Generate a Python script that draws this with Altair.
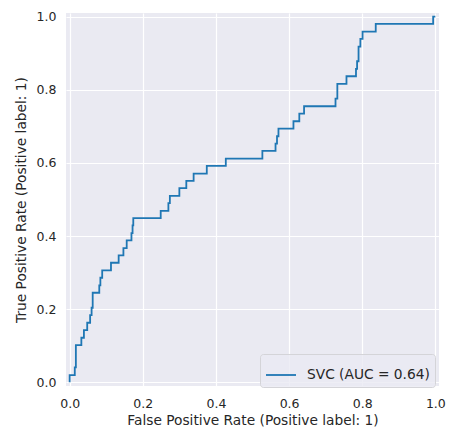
import altair as alt
import pandas as pd

# ROC curve corner points
fpr = [0.0, 0.0, 0.014, 0.014, 0.017, 0.017, 0.032, 0.032, 0.039, 0.039,
       0.048, 0.048, 0.056, 0.056, 0.060, 0.060, 0.063, 0.063, 0.081, 0.081,
       0.084, 0.084, 0.089, 0.089, 0.113, 0.113, 0.134, 0.134, 0.147, 0.147,
       0.156, 0.156, 0.169, 0.169, 0.172, 0.172, 0.174, 0.174, 0.249, 0.249,
       0.270, 0.270, 0.274, 0.274, 0.300, 0.300, 0.319, 0.319, 0.339, 0.339,
       0.375, 0.375, 0.427, 0.427, 0.527, 0.527, 0.563, 0.563, 0.567, 0.567,
       0.571, 0.571, 0.612, 0.612, 0.628, 0.628, 0.641, 0.641, 0.727, 0.727,
       0.732, 0.732, 0.757, 0.757, 0.783, 0.783, 0.786, 0.786, 0.790, 0.790,
       0.795, 0.795, 0.801, 0.801, 0.837, 0.837, 0.994, 0.994, 1.0]
tpr = [0.0, 0.020, 0.020, 0.041, 0.041, 0.102, 0.102, 0.122, 0.122, 0.143,
       0.143, 0.163, 0.163, 0.184, 0.184, 0.204, 0.204, 0.245, 0.245, 0.265,
       0.265, 0.286, 0.286, 0.306, 0.306, 0.327, 0.327, 0.347, 0.347, 0.367,
       0.367, 0.388, 0.388, 0.408, 0.408, 0.429, 0.429, 0.449, 0.449, 0.469,
       0.469, 0.490, 0.490, 0.510, 0.510, 0.531, 0.531, 0.551, 0.551, 0.571,
       0.571, 0.592, 0.592, 0.612, 0.612, 0.633, 0.633, 0.653, 0.653, 0.673,
       0.673, 0.694, 0.694, 0.714, 0.714, 0.735, 0.735, 0.755, 0.755, 0.776,
       0.776, 0.816, 0.816, 0.837, 0.837, 0.857, 0.857, 0.878, 0.878, 0.918,
       0.918, 0.939, 0.939, 0.959, 0.959, 0.980, 0.980, 1.0, 1.0]
series_label = "SVC (AUC = 0.64)"
tick_values = [0.0, 0.2, 0.4, 0.6, 0.8, 1.0]

df = pd.DataFrame({
    "fpr": fpr,
    "tpr": tpr,
    "idx": list(range(len(fpr))),
    "series": [series_label] * len(fpr),
})

FONT = "DejaVu Sans"
TXT = "#262626"

chart = alt.Chart(df).mark_line(strokeWidth=1.8, interpolate="linear").encode(
    x=alt.X("fpr:Q",
            scale=alt.Scale(domain=[-0.01, 1.01], nice=False, zero=False),
            axis=alt.Axis(title="False Positive Rate (Positive label: 1)",
                          values=tick_values, format=".1f")),
    y=alt.Y("tpr:Q",
            scale=alt.Scale(domain=[-0.01, 1.01], nice=False, zero=False),
            axis=alt.Axis(title="True Positive Rate (Positive label: 1)",
                          values=tick_values, format=".1f")),
    order="idx:Q",
    color=alt.Color("series:N",
                    scale=alt.Scale(range=["#1f77b4"]),
                    legend=alt.Legend(
                        title=None, orient="none", legendX=194, legendY=341,
                        symbolType="stroke", symbolSize=900, symbolStrokeWidth=1.8,
                        labelFont=FONT, labelFontSize=13.75, labelColor=TXT,
                        labelOffset=10, padding=5,
                        fillColor="rgba(234,234,242,0.8)",
                        strokeColor="#d4d4d8", cornerRadius=3)),
).properties(
    width=373, height=373,
    autosize=alt.AutoSizeParams(type="none"),
    padding={"left": 58, "top": 5, "right": 7, "bottom": 42},
    background="white",
).configure_view(
    fill="#EAEAF2", stroke=None
).configure_axis(
    domain=False, ticks=False, grid=True, gridColor="white", gridWidth=1.2,
    labelFont=FONT, labelFontSize=12.5, labelColor=TXT, labelPadding=10,
    titleFont=FONT, titleFontSize=13.75, titleColor=TXT, titleFontWeight="normal",
).configure_axisX(
    labelPadding=11, titlePadding=4
).configure_axisY(
    titlePadding=8
)

chart.save("out.html", embed_options={"renderer": "svg", "actions": False})
